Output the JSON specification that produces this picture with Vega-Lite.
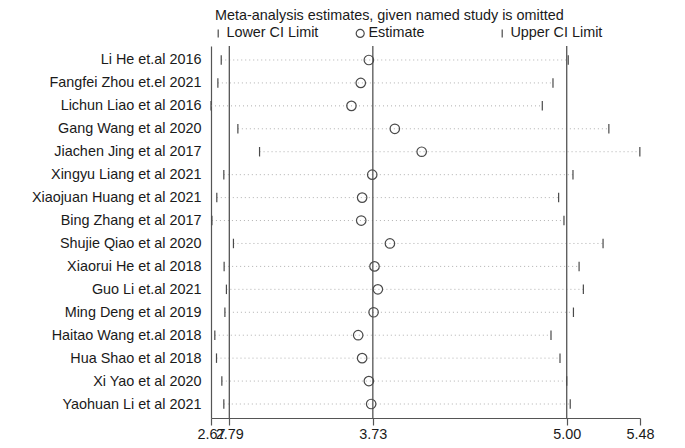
{
  "$schema": "https://vega.github.io/schema/vega-lite/v6.json",
  "width": 429,
  "height": 372,
  "padding": {"left": 0, "top": 7, "right": 10, "bottom": 5},
  "background": "white",
  "config": {"view": {"stroke": null}, "font": "Liberation Sans"},
  "title": {"text": "Meta-analysis estimates, given named study is omitted", "anchor": "start", "frame": "group", "fontSize": 14.4, "fontWeight": "normal", "color": "#1a1a1a", "offset": 3, "dx": 4},
  "data": {"values": [
    {"study": "Li He et.al 2016", "lower": 2.737, "estimate": 3.704, "upper": 5.010},
    {"study": "Fangfei Zhou et.el 2021", "lower": 2.715, "estimate": 3.651, "upper": 4.910},
    {"study": "Lichun Liao et al 2016", "lower": 2.670, "estimate": 3.590, "upper": 4.840},
    {"study": "Gang Wang et al 2020", "lower": 2.846, "estimate": 3.874, "upper": 5.276},
    {"study": "Jiachen Jing et al 2017", "lower": 2.988, "estimate": 4.050, "upper": 5.479},
    {"study": "Xingyu Liang et al 2021", "lower": 2.754, "estimate": 3.726, "upper": 5.041},
    {"study": "Xiaojuan Huang et al 2021", "lower": 2.708, "estimate": 3.660, "upper": 4.947},
    {"study": "Bing Zhang et al 2017", "lower": 2.676, "estimate": 3.654, "upper": 4.982},
    {"study": "Shujie Qiao et al 2020", "lower": 2.817, "estimate": 3.842, "upper": 5.238},
    {"study": "Xiaorui He et al 2018", "lower": 2.756, "estimate": 3.741, "upper": 5.081},
    {"study": "Guo Li et.al 2021", "lower": 2.771, "estimate": 3.763, "upper": 5.109},
    {"study": "Ming Deng et al 2019", "lower": 2.761, "estimate": 3.735, "upper": 5.044},
    {"study": "Haitao Wang et.al 2018", "lower": 2.695, "estimate": 3.634, "upper": 4.897},
    {"study": "Hua Shao et al 2018", "lower": 2.706, "estimate": 3.660, "upper": 4.956},
    {"study": "Xi Yao et al 2020", "lower": 2.741, "estimate": 3.704, "upper": 5.000},
    {"study": "Yaohuan Li et al 2021", "lower": 2.754, "estimate": 3.719, "upper": 5.023}
  ]},
  "layer": [
    {
      "mark": {"type": "rule", "strokeDash": [1, 3], "color": "#b0b0b0", "strokeWidth": 1},
      "encoding": {
        "y": {"field": "study", "type": "nominal", "sort": null, "scale": {"type": "point", "padding": 0.61},
          "axis": {"title": null, "ticks": false, "labelPadding": 10, "labelFontSize": 14.4, "labelColor": "#1a1a1a", "domainColor": "#555555", "domainWidth": 1.2, "grid": false, "minExtent": 211, "labelLimit": 300}},
        "x": {"field": "lower", "type": "quantitative", "scale": {"domain": [2.67, 5.48], "nice": false, "zero": false},
          "axis": {"title": null, "values": [2.67, 2.79, 3.73, 5.0, 5.48], "format": ".2f", "grid": false, "tickSize": 7, "labelPadding": 2, "labelFontSize": 14.4, "labelColor": "#1a1a1a", "domainColor": "#555555", "tickColor": "#555555", "domainWidth": 1.2, "tickWidth": 1.2, "labelFlush": false, "labelOverlap": false}},
        "x2": {"field": "upper"}
      }
    },
    {
      "data": {"values": [{"ref": 2.79}, {"ref": 3.73}, {"ref": 5.0}]},
      "mark": {"type": "rule", "color": "#555555", "strokeWidth": 1.3},
      "encoding": {"x": {"field": "ref", "type": "quantitative"}}
    },
    {
      "transform": [{"fold": ["lower", "estimate", "upper"], "as": ["type", "val"]}],
      "mark": {"type": "point", "filled": false, "color": "#4a4a4a", "strokeWidth": 1.2, "size": 90, "opacity": 1},
      "encoding": {
        "y": {"field": "study", "type": "nominal", "sort": null},
        "x": {"field": "val", "type": "quantitative"},
        "shape": {"field": "type", "type": "nominal",
          "scale": {"domain": ["lower", "estimate", "upper"], "range": ["M0,-1L0,1", "circle", "M0,-1L0,1"]},
          "legend": {"orient": "top", "direction": "horizontal", "title": null, "symbolSize": 64, "labelFontSize": 14.4, "labelColor": "#1a1a1a", "columnPadding": 34, "gridAlign": "all", "offset": 6, "symbolStrokeWidth": 1.2, "labelOffset": 1, "padding": 0,
            "labelExpr": "datum.label == 'lower' ? 'Lower CI Limit' : (datum.label == 'upper' ? 'Upper CI Limit' : 'Estimate')"}
        }
      }
    }
  ]
}
